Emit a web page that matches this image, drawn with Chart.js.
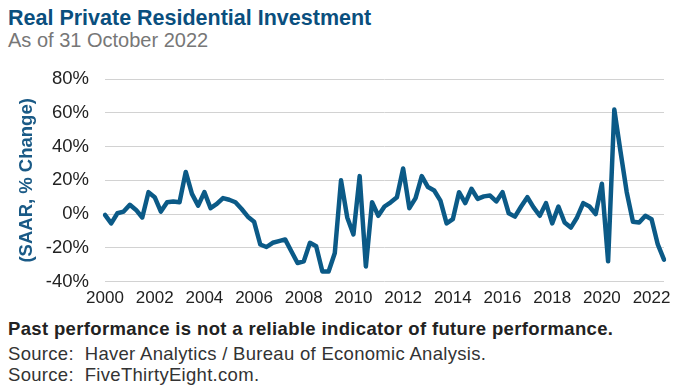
<!DOCTYPE html>
<html lang="en">

<head>
    <meta charset="UTF-8">
    <title>Real Private Residential Investment</title>
    <script src="https://cdn.jsdelivr.net/npm/chart.js"></script>
    <style>
        body { margin: 0; width: 688px; height: 388px; background: #fff; font-family: "Liberation Sans", Arial, sans-serif; position: relative; overflow: hidden; }
        .txt { position: absolute; left: 8px; white-space: nowrap; }
        #title { top: 6px; font-size: 21.5px; font-weight: bold; color: #0a4f7e; }
        #subtitle { top: 29px; font-size: 20px; color: #777; }
        #chartBox { position: absolute; left: 0; top: 52px; }
        #note { top: 318px; font-size: 18.5px; letter-spacing: 0.35px; font-weight: bold; color: #222; }
        .src { font-size: 18.5px; letter-spacing: 0.3px; color: #333; }
        #src1 { top: 343px; }
        #src2 { top: 364px; }
    </style>
</head>

<body>
    <div class="txt" id="title">Real Private Residential Investment</div>
    <div class="txt" id="subtitle">As of 31 October 2022</div>
    <div id="chartBox"><canvas id="myChart" width="688" height="264"></canvas></div>
    <div class="txt" id="note">Past performance is not a reliable indicator of future performance.</div>
    <div class="txt src" id="src1">Source:&nbsp; Haver Analytics / Bureau of Economic Analysis.</div>
    <div class="txt src" id="src2">Source:&nbsp; FiveThirtyEight.com.</div>

    <script>
        // quarterly, 2000 Q1 .. 2022 Q3
        const firstYear = 2000;
        const yearTicks = ['2000', '2002', '2004', '2006', '2008', '2010', '2012', '2014', '2016', '2018', '2020', '2022'];
        const yTicks = [-40, -20, 0, 20, 40, 60, 80];

        // SAAR % change
        const investmentChange = [
            -0.5, -5.5, 0.5, 1.5, 5.5, 2.5, -2, 13,
            10, 1.5, 7, 7.5, 7, 25, 12, 5,
            13, 3.5, 6, 9.5, 8.5, 7, 3, -1.5,
            -4.5, -18, -19.5, -17, -16, -15, -22, -29,
            -28, -17, -19, -34, -34, -23, 20, -2,
            -12, 22.5, -31, 7, -1, 4.5, 7, 10,
            27, 3.5, 9.5, 22.5, 16, 14, 8, -5.5,
            -3, 13, 6.5, 15, 9, 10.5, 11, 7.5,
            13, 0.5, -1.5, 4.5, 10, 4, -1, 6.5,
            -5.5, 4.5, -5, -8, -2, 6.5, 4.5, 0,
            18, -28, 62, 37, 13, -4.5, -5, -1,
            -3, -18, -27
        ];

        const quarterLabels = investmentChange.map((v, i) => (firstYear + Math.floor(i / 4)) + ' Q' + (i % 4 + 1));

        const blue = '#0b5a87';

        new Chart(document.getElementById('myChart'), {
            type: 'line',
            data: {
                labels: quarterLabels,
                datasets: [{
                    data: investmentChange,
                    borderColor: blue,
                    borderWidth: 4.5,
                    pointRadius: 0,
                    tension: 0,
                    borderJoinStyle: 'round',
                    borderCapStyle: 'round',
                    fill: false
                }]
            },
            options: {
                responsive: false,
                animation: false,
                devicePixelRatio: 1,
                layout: { padding: { left: 0, right: 24, top: 5, bottom: 0 } },
                plugins: { legend: { display: false }, tooltip: { enabled: false } },
                scales: {
                    x: {
                        grid: { display: false, drawTicks: false },
                        border: { display: false },
                        ticks: {
                            autoSkip: false,
                            maxRotation: 0,
                            padding: 7,
                            color: '#222',
                            font: { family: '"Liberation Sans", Arial', size: 17 },
                            callback: (value, index) => index % 8 === 0 ? yearTicks[index / 8] : null
                        }
                    },
                    y: {
                        min: yTicks[0],
                        max: yTicks[yTicks.length - 1],
                        afterBuildTicks: scale => { scale.ticks = yTicks.map(v => ({ value: v })); },
                        afterFit: scale => { scale.width = 105; },
                        grid: { color: '#d2d2d2', lineWidth: 1, drawTicks: false },
                        border: { display: false },
                        ticks: {
                            padding: 16,
                            color: '#222',
                            font: { family: '"Liberation Sans", Arial', size: 18.5 },
                            callback: v => v + '%'
                        },
                        title: {
                            display: true,
                            text: '(SAAR, % Change)',
                            color: '#1a5a86',
                            padding: { top: 16, bottom: 0 },
                            font: { family: '"Liberation Sans", Arial', size: 18.5, weight: 'bold' }
                        }
                    }
                }
            }
        });
    </script>
</body>

</html>
